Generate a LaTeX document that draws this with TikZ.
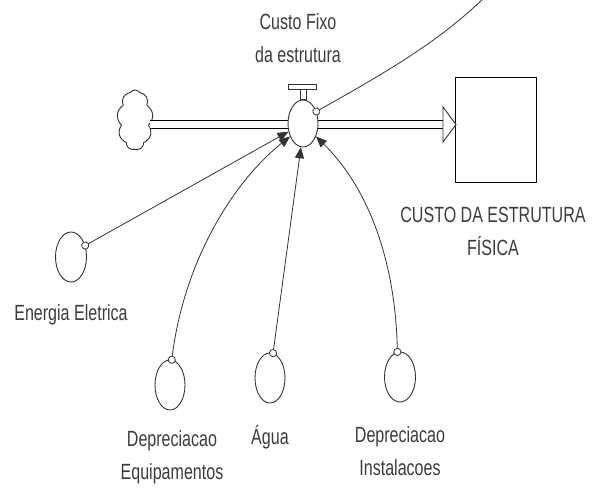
\documentclass[tikz,border=0pt]{standalone}
\usepackage{fontspec}
\setmainfont{Liberation Sans}[FakeStretch=0.73]
\usetikzlibrary{shapes.geometric,shapes.symbols,arrows.meta,calc}
\definecolor{ink}{HTML}{333333}
\definecolor{txt}{HTML}{3C3C3C}
\begin{document}
\begin{tikzpicture}[x=1pt,y=-1pt,
  aux/.style={ellipse,draw=ink,line width=0.9pt,fill=white,inner sep=0pt,
    minimum width=31pt,minimum height=50pt},
  lbl/.style={text=txt,align=center,inner sep=0pt,
    font=\fontsize{22}{33}\selectfont},
  link/.style={draw=ink,line width=0.8pt,
    {Circle[open,length=8pt,fill=white]}-{Triangle[length=11pt,width=9pt]},
    shorten <=-4pt},
  pipe/.style={draw=black,line width=1.1pt,double=white,double distance=7.2pt}]
\useasboundingbox (0,0) rectangle (592,489);
\clip (0,0) rectangle (592,489);

% stock, source cloud and flow valve
\node[draw=black,line width=1pt,minimum width=81pt,minimum height=105pt,
  inner sep=0pt] (stock) at (495.5,130.5) {};
\node[cloud,cloud puffs=9,cloud puff arc=110,draw=ink,line width=0.9pt,fill=white,
  minimum width=36pt,minimum height=60pt,aspect=0.6,inner sep=0pt]
  (cloud) at (135,120) {};
\coordinate (tip) at (456,124.5);
\coordinate (base) at (443,124.5);
\draw[pipe] ([xshift=-2pt]cloud.east |- base) -- (base);
\draw[ink,line width=0.9pt,fill=white]
  ([yshift=17.5pt]base) -- (tip) -- ([yshift=-17.5pt]base) -- cycle;
\node[ellipse,draw=ink,line width=0.9pt,fill=white,inner sep=0pt,
  minimum width=30pt,minimum height=47pt] (valve) at (303,123.5) {};
\draw[ink,line width=0.9pt,fill=white]
  ([xshift=-3pt]valve.north) rectangle ([xshift=3pt,yshift=10pt]valve.north);
\draw[ink,line width=0.9pt,fill=white]
  ([xshift=-14.5pt,yshift=10pt]valve.north) rectangle ([xshift=13pt,yshift=15pt]valve.north);

% auxiliary variables
\node[aux] (ee) at (71,257) {};
\node[aux,minimum width=30pt] (deq) at (170,385) {};
\node[aux,minimum width=30pt] (agua) at (270,378) {};
\node[aux] (dins) at (400,377) {};

% labels
\node[lbl] (lvalve) at (298,38) {Custo Fixo\\da estrutura};
\node[lbl] (lstock) at (493,231) {CUSTO DA ESTRUTURA\\FÍSICA};
\node[lbl,anchor=base] (lee) at (71,320) {Energia Eletrica};
\node[lbl] (ldeq) at (172,457) {Depreciacao\\Equipamentos};
\node[lbl,anchor=base] (lagua) at (270,444) {Água};
\node[lbl] (ldins) at (400,451) {Depreciacao\\Instalacoes};

% connectors into the valve
\draw[link] (ee.39) -- (valve);
\draw[link] (deq.86) .. controls +(13,-102) and +(-55,44) .. (valve.-135);
\draw[link] (agua.83) -- (valve.-95);
\draw[link] (dins.96) .. controls +(-2,-88) and +(54,53) .. (valve.-45);

% connector leaving the valve towards the top edge
\coordinate (away) at (484,-2);
\draw[draw=ink,line width=0.8pt,{Circle[open,length=8pt,fill=white]}-,
  shorten <=-4pt] (valve.42) .. controls +(84,-47) and +(-42,40) .. (away);
\end{tikzpicture}
\end{document}
